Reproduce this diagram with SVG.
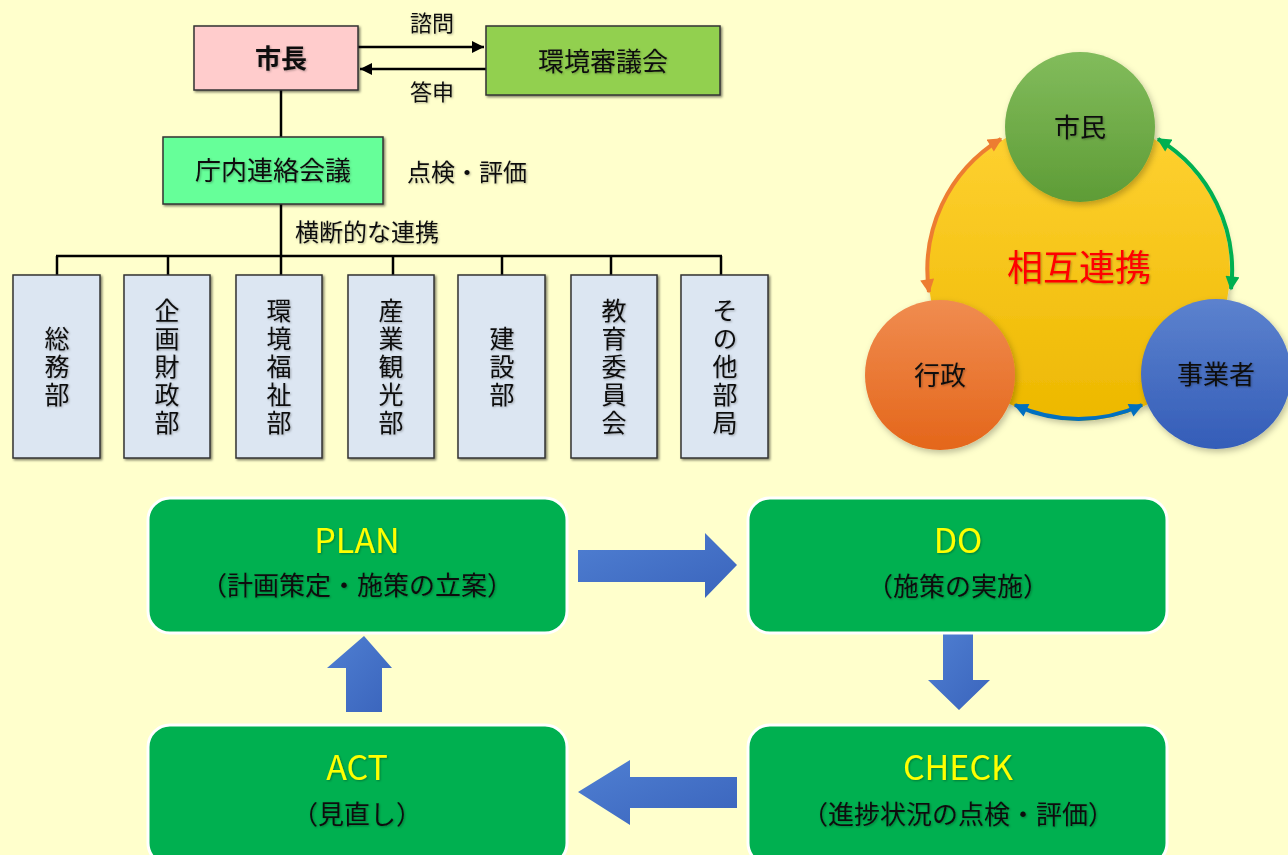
<svg xmlns="http://www.w3.org/2000/svg" width="1288" height="855" viewBox="0 0 1288 855">
<defs>
<style>
.jp{font-family:"Noto Sans CJK JP","Noto Sans",sans-serif;fill:#111;}
.org{stroke:#333;stroke-width:1.5;}
.dept{fill:#DCE6F2;stroke:#333;stroke-width:1.5;}
.dtxt{font-family:"Noto Sans CJK JP",sans-serif;font-size:25px;fill:#111;text-anchor:middle;writing-mode:vertical-rl;letter-spacing:3px;}
.line{stroke:#000;stroke-width:2.5;fill:none;}
.pdca{fill:#00B050;stroke:#fff;stroke-width:3;}
.ttl{font-family:"Noto Sans CJK JP",sans-serif;font-size:34px;fill:#FFFF00;text-anchor:middle;font-weight:400;}
.sub{font-family:"Noto Sans CJK JP",sans-serif;font-size:26px;fill:#111;text-anchor:middle;}
.bar{fill:url(#blu);}
</style>
<filter id="sh" x="-10%" y="-10%" width="130%" height="130%">
<feDropShadow dx="1.5" dy="1.5" stdDeviation="1" flood-color="#000" flood-opacity="0.5"/>
</filter>
<filter id="tsh" x="-10%" y="-10%" width="130%" height="130%">
<feDropShadow dx="1" dy="1" stdDeviation="1" flood-color="#000" flood-opacity="0.3"/>
</filter>
<filter id="csh" x="-20%" y="-20%" width="140%" height="140%">
<feDropShadow dx="2" dy="3" stdDeviation="3" flood-color="#000" flood-opacity="0.25"/>
</filter>
<linearGradient id="yel" x1="0" y1="0" x2="0" y2="1">
<stop offset="0" stop-color="#FFD233"/><stop offset="1" stop-color="#EDB800"/>
</linearGradient>
<linearGradient id="grn" x1="0" y1="0" x2="0" y2="1">
<stop offset="0" stop-color="#82BC5C"/><stop offset="1" stop-color="#5E9C36"/>
</linearGradient>
<linearGradient id="org" x1="0" y1="0" x2="0" y2="1">
<stop offset="0" stop-color="#F08C50"/><stop offset="1" stop-color="#E4661A"/>
</linearGradient>
<linearGradient id="blc" x1="0" y1="0" x2="0" y2="1">
<stop offset="0" stop-color="#5C82CE"/><stop offset="1" stop-color="#345DB8"/>
</linearGradient>
<linearGradient id="blu" x1="0" y1="0" x2="1" y2="1">
<stop offset="0" stop-color="#4F7FD2"/><stop offset="1" stop-color="#3A64BC"/>
</linearGradient>
<marker id="ab" viewBox="0 0 10 10" refX="10" refY="5" markerWidth="14" markerHeight="12" markerUnits="userSpaceOnUse" orient="auto">
<path d="M0,0 L10,5 L0,10 z" fill="#000"/>
</marker>
<marker id="mo" viewBox="0 0 10 10" refX="9" refY="5" markerWidth="15" markerHeight="14" markerUnits="userSpaceOnUse" orient="auto-start-reverse">
<path d="M0,0 L10,5 L0,10 z" fill="#ED7D31"/>
</marker>
<marker id="mg" viewBox="0 0 10 10" refX="9" refY="5" markerWidth="15" markerHeight="14" markerUnits="userSpaceOnUse" orient="auto-start-reverse">
<path d="M0,0 L10,5 L0,10 z" fill="#00B050"/>
</marker>
<marker id="mb" viewBox="0 0 10 10" refX="9" refY="5" markerWidth="15" markerHeight="14" markerUnits="userSpaceOnUse" orient="auto-start-reverse">
<path d="M0,0 L10,5 L0,10 z" fill="#0070C0"/>
</marker>
</defs>
<rect x="0" y="0" width="1288" height="855" fill="#FFFFCC"/>

<g id="connectors">
<line class="line" x1="358" y1="47" x2="484" y2="47" marker-end="url(#ab)" stroke-width="2"/>
<line class="line" x1="486" y1="69" x2="360" y2="69" marker-end="url(#ab)" stroke-width="2"/>
<line class="line" x1="281" y1="90" x2="281" y2="137"/>
<line class="line" x1="281" y1="204" x2="281" y2="256"/>
<line class="line" x1="56" y1="256" x2="722" y2="256"/>
<line class="line" x1="57" y1="256" x2="57" y2="275"/>
<line class="line" x1="168" y1="256" x2="168" y2="275"/>
<line class="line" x1="281" y1="256" x2="281" y2="275"/>
<line class="line" x1="393" y1="256" x2="393" y2="275"/>
<line class="line" x1="502" y1="256" x2="502" y2="275"/>
<line class="line" x1="611" y1="256" x2="611" y2="275"/>
<line class="line" x1="721" y1="256" x2="721" y2="275"/>
<text class="jp" x="432" y="31" font-size="22" text-anchor="middle" filter="url(#tsh)">諮問</text>
<text class="jp" x="432" y="100" font-size="22" text-anchor="middle" filter="url(#tsh)">答申</text>
<text class="jp" x="407" y="181" font-size="24" filter="url(#tsh)">点検・評価</text>
<text class="jp" x="295" y="241" font-size="24" filter="url(#tsh)">横断的な連携</text>
</g>

<g id="mayor">
<rect class="org" x="194" y="26" width="164" height="64" fill="#FFCCCC" filter="url(#sh)"/>
<text class="jp" x="281" y="68" font-size="26" font-weight="bold" text-anchor="middle" filter="url(#tsh)">市長</text>
</g>
<g id="council">
<rect class="org" x="486" y="26" width="234" height="69" fill="#92D050" filter="url(#sh)"/>
<text class="jp" x="603" y="71" font-size="26" text-anchor="middle" filter="url(#tsh)">環境審議会</text>
</g>
<g id="liaison">
<rect class="org" x="163" y="137" width="220" height="67" fill="#66FF99" filter="url(#sh)"/>
<text class="jp" x="273" y="180" font-size="26" text-anchor="middle" filter="url(#tsh)">庁内連絡会議</text>
</g>

<g id="d1"><rect class="dept" x="13" y="275" width="87" height="183" filter="url(#sh)"/>
<text class="dtxt" x="57" y="368" filter="url(#tsh)">総務部</text></g>
<g id="d2"><rect class="dept" x="124" y="275" width="86" height="183" filter="url(#sh)"/>
<text class="dtxt" x="167" y="368" filter="url(#tsh)">企画財政部</text></g>
<g id="d3"><rect class="dept" x="236" y="275" width="86" height="183" filter="url(#sh)"/>
<text class="dtxt" x="279" y="368" filter="url(#tsh)">環境福祉部</text></g>
<g id="d4"><rect class="dept" x="348" y="275" width="86" height="183" filter="url(#sh)"/>
<text class="dtxt" x="391" y="368" filter="url(#tsh)">産業観光部</text></g>
<g id="d5"><rect class="dept" x="458" y="275" width="87" height="183" filter="url(#sh)"/>
<text class="dtxt" x="502" y="368" filter="url(#tsh)">建設部</text></g>
<g id="d6"><rect class="dept" x="571" y="275" width="86" height="183" filter="url(#sh)"/>
<text class="dtxt" x="614" y="368" filter="url(#tsh)">教育委員会</text></g>
<g id="d7"><rect class="dept" x="681" y="275" width="87" height="183" filter="url(#sh)"/>
<text class="dtxt" x="725" y="368" filter="url(#tsh)">その他部局</text></g>

<g id="mutual">
<circle cx="1079" cy="270" r="151" fill="url(#yel)" filter="url(#csh)"/>
<text x="1079" y="281" font-family="Noto Sans CJK JP,sans-serif" font-size="36" fill="#FF0000" text-anchor="middle" filter="url(#tsh)">相互連携</text>
</g>
<g id="arcs">
<path d="M 929 292 A 153 153 0 0 1 1001 139" fill="none" stroke="#ED7D31" stroke-width="4" marker-start="url(#mo)" marker-end="url(#mo)"/>
<path d="M 1158 139 A 154 154 0 0 1 1231 289" fill="none" stroke="#00B050" stroke-width="4" marker-start="url(#mg)" marker-end="url(#mg)"/>
<path d="M 1142 405 A 152 152 0 0 1 1015 405" fill="none" stroke="#0070C0" stroke-width="4" marker-start="url(#mb)" marker-end="url(#mb)"/>
</g>
<g id="citizen">
<circle cx="1080" cy="127" r="75" fill="url(#grn)" filter="url(#csh)"/>
<text class="jp" x="1080" y="137" font-size="26" text-anchor="middle" filter="url(#tsh)">市民</text>
</g>
<g id="admin">
<circle cx="940" cy="375" r="75" fill="url(#org)" filter="url(#csh)"/>
<text class="jp" x="940" y="385" font-size="26" text-anchor="middle" filter="url(#tsh)">行政</text>
</g>
<g id="business">
<circle cx="1216" cy="374" r="75" fill="url(#blc)" filter="url(#csh)"/>
<text class="jp" x="1216" y="384" font-size="26" text-anchor="middle" filter="url(#tsh)">事業者</text>
</g>

<g id="pdca-arrows">
<path class="bar" d="M578,550 H705 V533 L737,565 L705,598 V582 H578 Z"/>
<path class="bar" d="M943,633 H973 V680 H990 L959,710 L928,680 H943 Z"/>
<path class="bar" d="M737,777 H630 V760 L578,792 L630,825 V808 H737 Z"/>
<path class="bar" d="M346,712 H382 V668 H392 L364,636 L327,668 H346 Z"/>
</g>

<g id="plan">
<rect class="pdca" x="148" y="498" width="419" height="135" rx="22"/>
<text class="ttl" x="357" y="553" filter="url(#tsh)">PLAN</text>
<text class="sub" x="357" y="595" filter="url(#tsh)">（計画策定・施策の立案）</text>
</g>
<g id="do">
<rect class="pdca" x="748" y="498" width="419" height="135" rx="22"/>
<text class="ttl" x="958" y="553" filter="url(#tsh)">DO</text>
<text class="sub" x="958" y="596" filter="url(#tsh)">（施策の実施）</text>
</g>
<g id="check">
<rect class="pdca" x="748" y="725" width="419" height="140" rx="22"/>
<text class="ttl" x="958" y="780" filter="url(#tsh)">CHECK</text>
<text class="sub" x="958" y="824" filter="url(#tsh)">（進捗状況の点検・評価）</text>
</g>
<g id="act">
<rect class="pdca" x="148" y="725" width="419" height="140" rx="22"/>
<text class="ttl" x="357" y="780" filter="url(#tsh)">ACT</text>
<text class="sub" x="357" y="824" filter="url(#tsh)">（見直し）</text>
</g>
</svg>
